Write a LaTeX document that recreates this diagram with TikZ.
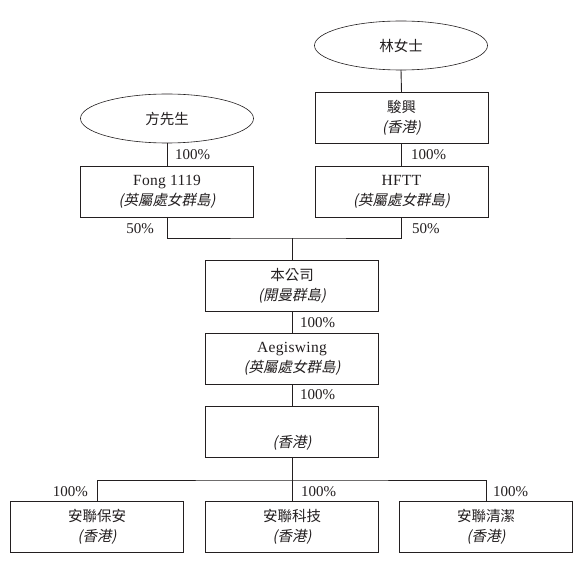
\documentclass[tikz,border=0pt]{standalone}
\usepackage{fontspec}
\setmainfont{Liberation Serif}
\newfontfamily\cjk{Noto Sans CJK TC}
\newfontfamily\cjkit[FakeSlant=0.2]{Noto Sans CJK TC}
\usetikzlibrary{shapes.geometric}
\definecolor{ink}{HTML}{231F20}
\newcommand{\latname}[1]{{\fontsize{15.5}{20}\selectfont\addfontfeature{LetterSpace=2}#1}}
\begin{document}
\begin{tikzpicture}[x=1pt,y=-1pt,
  every node/.style={text=ink},
  box/.style={draw=ink, line width=0.9pt, minimum width=173pt, minimum height=51pt,
    align=center, inner sep=0pt, outer sep=0pt, font=\fontsize{14.5}{20}\selectfont},
  oval/.style={draw=ink, ellipse, line width=0.6pt, minimum width=173pt, minimum height=49pt,
    inner sep=0pt, outer sep=0pt, font=\cjk\fontsize{14.5}{17}\selectfont},
  pct/.style={font=\fontsize{15}{17}\selectfont, inner sep=0pt},
  conn/.style={draw=ink, line width=0.9pt}]
\useasboundingbox[fill=white] (0,0) rectangle (580,561);

% owners
\node[oval] (lin) at (401,45.5) {林女士};
\node[oval] (fang) at (167,118.5) {方先生};

% first level
\node[box] (jun) at (401.5,118) {{\cjk 駿興}\\{\cjkit (香港)}};
\node[box] (fong) at (167,191.5) {\latname{Fong 1119}\\{\cjkit (英屬處女群島)}};
\node[box] (hftt) at (401.5,191.5) {\latname{HFTT}\\{\cjkit (英屬處女群島)}};

% company chain
\node[box] (co) at (292,285.5) {{\cjk 本公司}\\{\cjkit (開曼群島)}};
\node[box] (aeg) at (292,358.5) {\latname{Aegiswing}\\{\cjkit (英屬處女群島)}};
\node[box] (hk) at (292,431.5) {\strut\\{\cjkit (香港)}};

% subsidiaries
\node[box] (b1) at (97,526.5) {{\cjk 安聯保安}\\{\cjkit (香港)}};
\node[box] (b2) at (292,526.5) {{\cjk 安聯科技}\\{\cjkit (香港)}};
\node[box] (b3) at (486,526.5) {{\cjk 安聯清潔}\\{\cjkit (香港)}};

% junctions
\coordinate (j1) at (292,238);
\coordinate (j2) at (292,480);

% connectors
\draw[conn] (lin.south) -- (jun.north);
\draw[conn] (fang.south) -- (fong.north);
\draw[conn] (jun.south) -- (hftt.north);
\draw[conn] (fong.south) |- (j1) -| (hftt.south);
\draw[conn] (j1) -- (co.north);
\draw[conn] (co.south) -- (aeg.north);
\draw[conn] (aeg.south) -- (hk.north);
\draw[conn] (hk.south) -- (j2);
\draw[conn] (b1.north) |- (j2) -| (b3.north);
\draw[conn] (j2) -- (b2.north);

% percentages
\node[pct, anchor=west] (p1) at (175,155) {100\%};
\node[pct, anchor=west] (p2) at (411,155) {100\%};
\node[pct, anchor=east] (p3) at (154,229) {50\%};
\node[pct, anchor=west] (p4) at (412,229) {50\%};
\node[pct, anchor=west] (p5) at (300,323) {100\%};
\node[pct, anchor=west] (p6) at (300,395) {100\%};
\node[pct, anchor=east] (p7) at (88,492) {100\%};
\node[pct, anchor=west] (p8) at (301,492) {100\%};
\node[pct, anchor=west] (p9) at (493,492) {100\%};
\end{tikzpicture}
\end{document}
